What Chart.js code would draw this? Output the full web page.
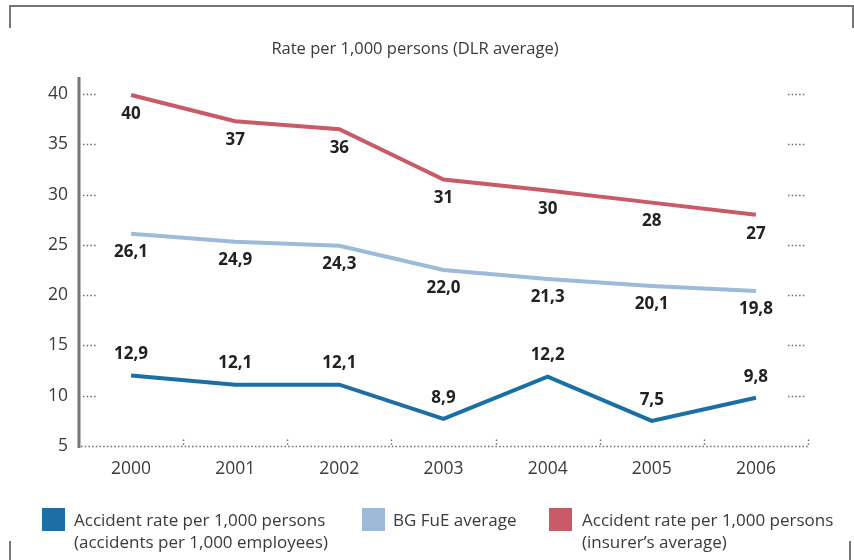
<!DOCTYPE html>
<html>
<head>
<meta charset="utf-8">
<script src="https://cdn.jsdelivr.net/npm/chart.js@4/dist/chart.umd.min.js"></script>
<style>
  body { margin: 0; background: #fff; }
  #wrap { position: relative; width: 854px; height: 560px; font-family: "Open Sans", sans-serif; color: #3a3a3a; }
  #title { position: absolute; top: 36px; left: 0; width: 830px; text-align: center; font-size: 16.5px; }
  .sw { position: absolute; width: 23px; height: 23px; }
  .lg { position: absolute; font-size: 17px; line-height: 22px; }
</style>
</head>
<body>
<div id="wrap">
  <canvas id="myChart" width="854" height="560"></canvas>
  <div id="title">Rate per 1,000 persons (DLR average)</div>
  <div class="sw" style="left:42px;top:508px;background:#1b6fa5"></div>
  <div class="lg" style="left:74px;top:509px">Accident rate per 1,000 persons<br>(accidents per 1,000 employees)</div>
  <div class="sw" style="left:362px;top:508px;background:#9dbbd9"></div>
  <div class="lg" style="left:393px;top:509px">BG FuE average</div>
  <div class="sw" style="left:549px;top:508px;background:#c95a67"></div>
  <div class="lg" style="left:582px;top:509px">Accident rate per 1,000 persons<br>(insurer’s average)</div>
</div>
<script>
// data
let years = ['2000', '2001', '2002', '2003', '2004', '2005', '2006'];
let insurerAvg = [39.9, 37.3, 36.5, 31.5, 30.4, 29.2, 28.0];
let insurerLabels = ['40', '37', '36', '31', '30', '28', '27'];
let bgFuE = [26.1, 25.3, 24.9, 22.5, 21.6, 20.9, 20.4];
let bgFuELabels = ['26,1', '24,9', '24,3', '22,0', '21,3', '20,1', '19,8'];
let dlrRate = [12.0, 11.1, 11.1, 7.7, 11.9, 7.5, 9.8];
let dlrLabels = ['12,9', '12,1', '12,1', '8,9', '12,2', '7,5', '9,8'];
let yTicks = [5, 10, 15, 20, 25, 30, 35, 40];

let grey = '#6e6e6e';

function dots(ctx, x1, y1, x2, y2) {
    ctx.save();
    ctx.strokeStyle = grey;
    ctx.lineWidth = 1.5;
    ctx.setLineDash([1.5, 2.2]);
    ctx.beginPath();
    ctx.moveTo(x1, y1);
    ctx.lineTo(x2, y2);
    ctx.stroke();
    ctx.restore();
}

// axis decoration, frame and value labels
let decor = {
    id: 'decor',
    beforeDatasetsDraw(chart) {
        let ctx = chart.ctx;
        let a = chart.chartArea;
        let y = chart.scales.y;
        ctx.save();
        ctx.strokeStyle = '#777';
        ctx.lineWidth = 2;
        ctx.beginPath();
        ctx.moveTo(10, 28); ctx.lineTo(10, 6); ctx.lineTo(853, 6); ctx.lineTo(853, 28);
        ctx.moveTo(10, 541); ctx.lineTo(10, 560);
        ctx.moveTo(850, 541); ctx.lineTo(850, 560);
        ctx.stroke();
        ctx.lineWidth = 3;
        ctx.beginPath();
        ctx.moveTo(a.left, a.top - 17);
        ctx.lineTo(a.left, a.bottom + 2);
        ctx.stroke();
        ctx.restore();
        yTicks.forEach(v => {
            let py = Math.round(y.getPixelForValue(v)) + 0.5;
            if (v > 5) {
                dots(ctx, a.left + 4, py, a.left + 18, py);
                dots(ctx, a.right - 20, py, a.right - 2, py);
            }
        });
        let b = Math.round(a.bottom) + 0.5;
        dots(ctx, a.left + 2, b, a.right, b);
        let step = (a.right - a.left) / years.length;
        for (let i = 1; i <= years.length; i++) {
            let px = Math.round(a.left + step * i) + 0.5;
            dots(ctx, px, b - 7, px, b);
        }
    },
    afterDatasetsDraw(chart) {
        let ctx = chart.ctx;
        ctx.save();
        ctx.font = 'bold 17px "Open Sans"';
        ctx.fillStyle = '#222';
        ctx.textAlign = 'center';
        ctx.textBaseline = 'middle';
        chart.data.datasets.forEach((ds, i) => {
            chart.getDatasetMeta(i).data.forEach((pt, j) => {
                ctx.fillText(ds.valueLabels[j], pt.x, pt.y + ds.labelOffset);
            });
        });
        ctx.restore();
    }
};

let lineChart = document.querySelector('#myChart').getContext('2d');

let accidentChart = new Chart(lineChart, {
    type: 'line',
    data: {
        labels: years,
        datasets: [{
            label: 'Accident rate per 1,000 persons (insurer’s average)',
            data: insurerAvg,
            valueLabels: insurerLabels,
            labelOffset: 19,
            borderColor: '#c95a67',
            borderWidth: 4
        }, {
            label: 'BG FuE average',
            data: bgFuE,
            valueLabels: bgFuELabels,
            labelOffset: 18,
            borderColor: '#9dbbd9',
            borderWidth: 4
        }, {
            label: 'Accident rate per 1,000 persons (accidents per 1,000 employees)',
            data: dlrRate,
            valueLabels: dlrLabels,
            labelOffset: -21,
            borderColor: '#1b6fa5',
            borderWidth: 4
        }]
    },
    options: {
        responsive: false,
        animation: false,
        clip: false,
        elements: { point: { radius: 0 }, line: { tension: 0 } },
        layout: { padding: { top: 94, right: 46, left: 0, bottom: 0 } },
        plugins: { legend: { display: false }, tooltip: { enabled: false } },
        scales: {
            x: {
                offset: true,
                grid: { display: false, drawTicks: false },
                border: { display: false },
                ticks: { color: '#3a3a3a', font: { family: 'Open Sans', size: 17.5 }, padding: 13 },
                afterFit(scale) { scale.height = 114; }
            },
            y: {
                min: 5,
                max: 40,
                grid: { display: false, drawTicks: false },
                border: { display: false },
                afterBuildTicks(scale) { scale.ticks = yTicks.map(v => ({ value: v })); },
                ticks: { color: '#3a3a3a', font: { family: 'Open Sans', size: 17.5 }, padding: 11 },
                afterFit(scale) { scale.width = 79; }
            }
        }
    },
    plugins: [decor]
});
</script>
</body>
</html>
